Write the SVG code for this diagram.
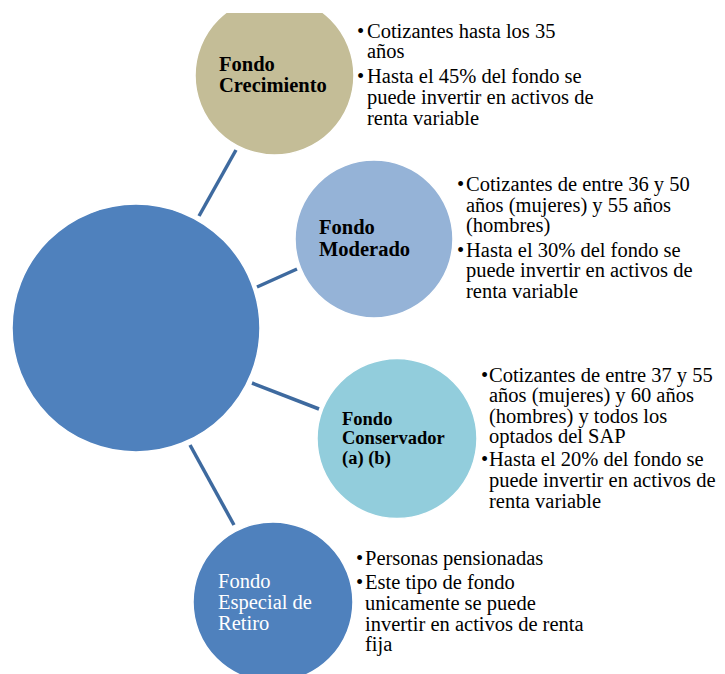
<svg xmlns="http://www.w3.org/2000/svg" width="725" height="674" viewBox="0 0 725 674">
<defs>
<clipPath id="topclip"><rect x="0" y="13" width="725" height="661"/></clipPath>
<style>
.conn{stroke:#3e6a9f;stroke-width:3.5;fill:none}
.circ{stroke:#ffffff;stroke-width:1.5}
.lbl{font-family:"Liberation Serif","Times New Roman",serif;font-size:20.5px;font-weight:bold;fill:#000}
.lblw{font-family:"Liberation Serif","Times New Roman",serif;font-size:20.5px;fill:#ffffff}
.txt{font-family:"Liberation Serif","Times New Roman",serif;font-size:20.5px;fill:#000}
</style>
</defs>
<rect width="725" height="674" fill="#ffffff"/>
<g id="connectors">
<line class="conn" x1="199" y1="216" x2="236" y2="150"/>
<line class="conn" x1="257" y1="287" x2="297" y2="269"/>
<line class="conn" x1="252" y1="383" x2="319" y2="409"/>
<line class="conn" x1="190" y1="445" x2="234" y2="525"/>
</g>
<g id="center">
<circle class="circ" cx="136" cy="328" r="124" fill="#4f81bd"/>
</g>
<g id="crecimiento">
<circle class="circ" cx="274.5" cy="75.5" r="79.5" fill="#c4bd97" clip-path="url(#topclip)"/>
<text class="lbl"><tspan x="219" y="71">Fondo</tspan><tspan x="219" y="92">Crecimiento</tspan></text>
<text class="txt"><tspan x="357" y="38">•</tspan><tspan x="367" y="38">Cotizantes hasta los 35</tspan><tspan x="367" y="58">años</tspan><tspan x="357" y="83">•</tspan><tspan x="367" y="83">Hasta el 45% del fondo se</tspan><tspan x="367" y="104">puede invertir en activos de</tspan><tspan x="367" y="125">renta variable</tspan></text>
</g>
<g id="moderado">
<circle class="circ" cx="374" cy="239" r="79" fill="#95b3d7"/>
<text class="lbl"><tspan x="319" y="234">Fondo</tspan><tspan x="319" y="256">Moderado</tspan></text>
<text class="txt"><tspan x="457" y="191">•</tspan><tspan x="466" y="191">Cotizantes de entre 36 y 50</tspan><tspan x="466" y="212">años (mujeres) y 55 años</tspan><tspan x="466" y="232">(hombres)</tspan><tspan x="457" y="257">•</tspan><tspan x="466" y="257">Hasta el 30% del fondo se</tspan><tspan x="466" y="277">puede invertir en activos de</tspan><tspan x="466" y="298">renta variable</tspan></text>
</g>
<g id="conservador">
<circle class="circ" cx="397" cy="438.5" r="80" fill="#92cddc"/>
<text class="lbl" style="font-size:18.5px"><tspan x="342" y="425">Fondo</tspan><tspan x="342" y="444">Conservador</tspan><tspan x="342" y="464">(a) (b)</tspan></text>
<text class="txt"><tspan x="481" y="382">•</tspan><tspan x="489" y="382">Cotizantes de entre 37 y 55</tspan><tspan x="489" y="402">años (mujeres) y 60 años</tspan><tspan x="489" y="423">(hombres) y todos los</tspan><tspan x="489" y="443">optados del SAP</tspan><tspan x="481" y="466">•</tspan><tspan x="489" y="466">Hasta el 20% del fondo se</tspan><tspan x="489" y="487">puede invertir en activos de</tspan><tspan x="489" y="508">renta variable</tspan></text>
</g>
<g id="especial">
<circle class="circ" cx="273" cy="602" r="80" fill="#4f81bd"/>
<text class="lblw"><tspan x="218" y="588">Fondo</tspan><tspan x="218" y="609">Especial de</tspan><tspan x="218" y="630">Retiro</tspan></text>
<text class="txt"><tspan x="356" y="565">•</tspan><tspan x="365" y="565">Personas pensionadas</tspan><tspan x="356" y="589">•</tspan><tspan x="365" y="589">Este tipo de fondo</tspan><tspan x="365" y="610">unicamente se puede</tspan><tspan x="365" y="631">invertir en activos de renta</tspan><tspan x="365" y="651">fija</tspan></text>
</g>
</svg>
